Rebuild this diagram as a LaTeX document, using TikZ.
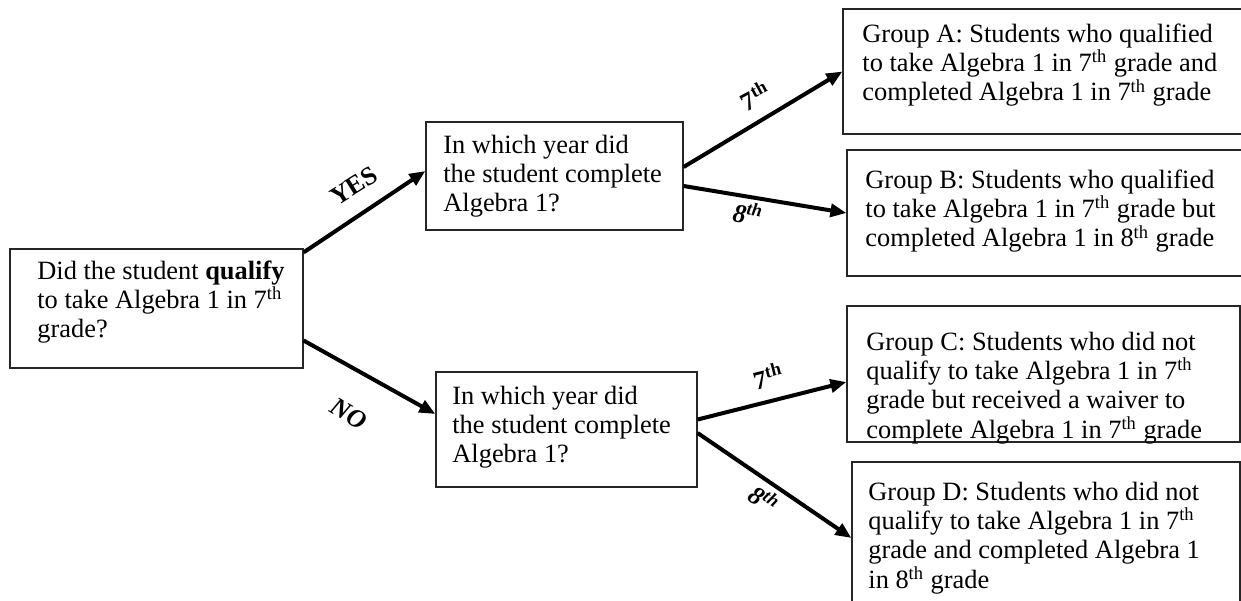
\documentclass[tikz,border=0pt]{standalone}
\usepackage{fontspec}
\setmainfont{Liberation Serif}
\usetikzlibrary{arrows.meta,fit}
\begin{document}
\begin{tikzpicture}[x=0.5pt,y=-0.5pt,
  box/.style={draw=black!85, line width=0.6pt, inner sep=0pt},
  txt/.style={inner sep=0pt, anchor=base west, font=\fontsize{13.2}{14.7}\selectfont},
  arr/.style={line width=2pt, -{Triangle[length=8pt,width=6.5pt]}},
  lbl/.style={inner sep=0pt, font=\fontsize{13}{14}\selectfont\bfseries},
  lbli/.style={lbl, font=\fontsize{13}{14}\selectfont\bfseries\itshape}]
\clip (0,0) rectangle (1241,600);
\fill[white] (0,0) rectangle (1241,600);
% boxes
\node[box, fit={(10,249)(303,368)}] (q) {};
\node[box, fit={(426,122)(683,230)}] (y) {};
\node[box, fit={(436,372)(697,487)}] (n) {};
\node[box, fit={(843,9)(1252,134)}] (A) {};
\node[box, fit={(847,150)(1252,276)}] (B) {};
\node[box, fit={(847,306)(1240,442)}] (C) {};
\node[box, fit={(852,462)(1240,614)}] (D) {};
% texts
\node[txt] (qt) at (37,279) {\parbox[t]{250pt}{Did the student \textbf{qualify}\\to take Algebra 1 in 7\textsuperscript{th}\\grade?}};
\node[txt] (yt) at (443,153) {\parbox[t]{250pt}{In which year did\\the student complete\\Algebra 1?}};
\node[txt] (nt) at (452,404) {\parbox[t]{250pt}{In which year did\\the student complete\\Algebra 1?}};
\node[txt] (At) at (862,42) {\parbox[t]{250pt}{Group A: Students who qualified\\to take Algebra 1 in 7\textsuperscript{th} grade and\\completed Algebra 1 in 7\textsuperscript{th} grade}};
\node[txt] (Bt) at (865,188) {\parbox[t]{250pt}{Group B: Students who qualified\\to take Algebra 1 in 7\textsuperscript{th} grade but\\completed Algebra 1 in 8\textsuperscript{th} grade}};
\node[txt] (Ct) at (866,350) {\parbox[t]{250pt}{Group C: Students who did not\\qualify to take Algebra 1 in 7\textsuperscript{th}\\grade but received a waiver to\\complete Algebra 1 in 7\textsuperscript{th} grade}};
\node[txt] (Dt) at (868,500) {\parbox[t]{250pt}{Group D: Students who did not\\qualify to take Algebra 1 in 7\textsuperscript{th}\\grade and completed Algebra 1\\in 8\textsuperscript{th} grade}};
% connectors
\draw[arr] ([yshift=-2pt]q.north east) -- ([yshift=2.5pt]y.west);
\draw[arr] ([yshift=-16pt]q.east) -- ([yshift=7.75pt]n.west);
\draw[arr] ([yshift=4.5pt]y.east) -- (A.west);
\draw[arr] ([yshift=-5pt]y.east) -- (B.west);
\draw[arr] ([yshift=5pt]n.east) -- ([yshift=-4pt]C.west);
\draw[arr] ([yshift=-1.75pt]n.east) -- (D.west);
% labels
\node[lbl, rotate=32] (lyes) at (354,186) {YES};
\node[lbli, rotate=-30] (lno) at (349,414) {NO};
\node[lbl, rotate=28] (l7a) at (755,96) {7\textsuperscript{th}};
\node[lbli, rotate=-9] (l8a) at (748,213) {8\textsuperscript{th}};
\node[lbl, rotate=14] (l7b) at (768,376) {7\textsuperscript{th}};
\node[lbli, rotate=-34] (l8b) at (764,499) {8\textsuperscript{th}};
\end{tikzpicture}
\end{document}
